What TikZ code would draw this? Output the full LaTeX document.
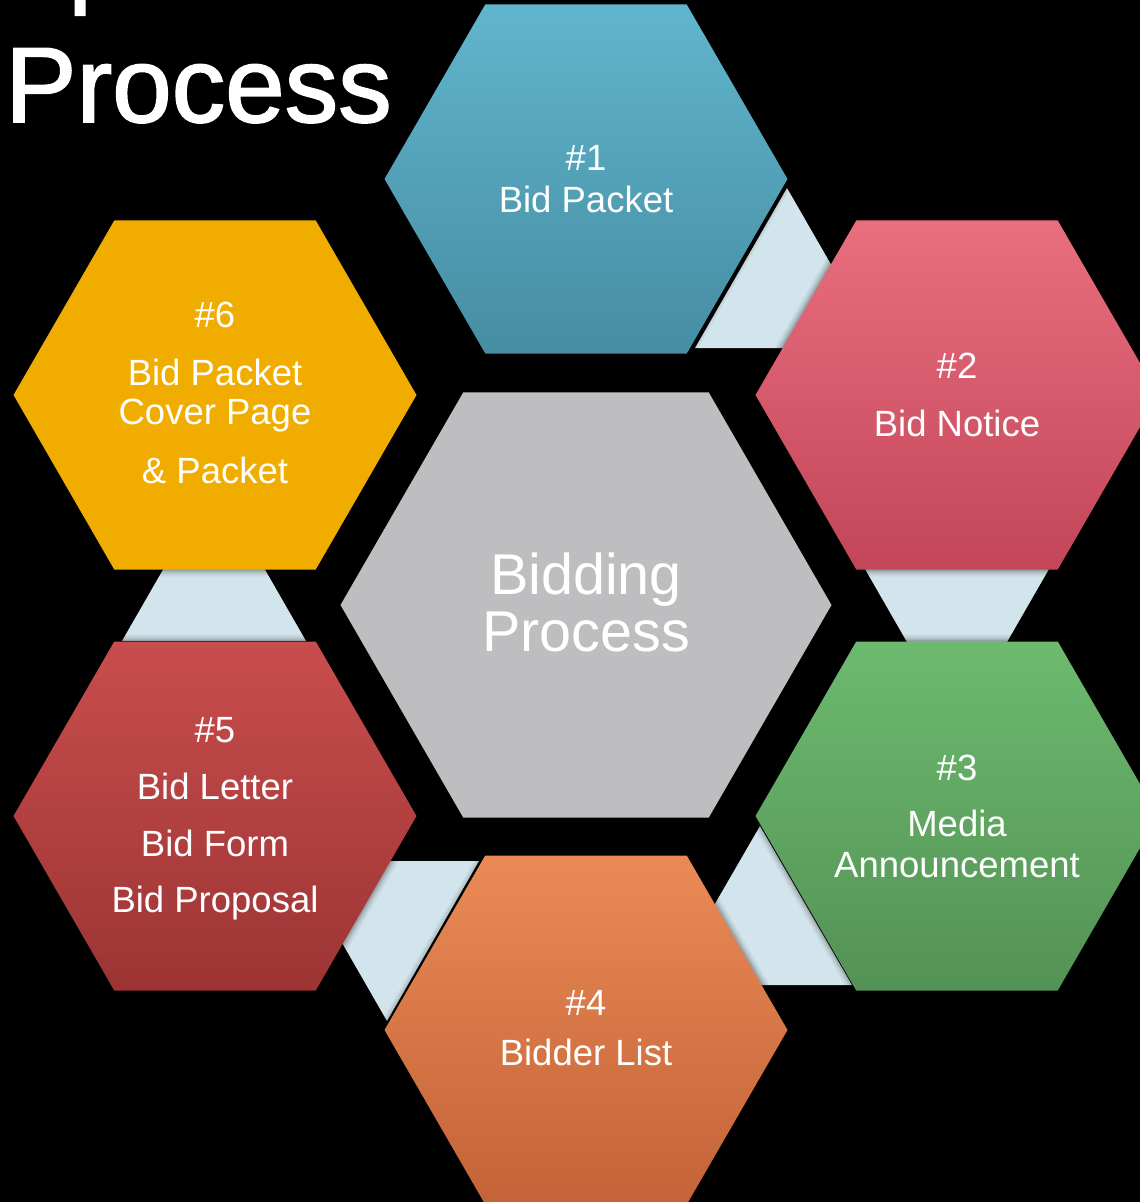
\documentclass[tikz,border=0pt]{standalone}
\usepackage{fontspec}
\setmainfont{Liberation Sans}
\newfontfamily\titlefont[FakeBold=1.6]{Liberation Sans}
\usetikzlibrary{shapes.geometric}
\definecolor{blueT}{RGB}{96,181,204}
\definecolor{blueB}{RGB}{70,141,163}
\definecolor{pinkT}{RGB}{233,110,126}
\definecolor{pinkB}{RGB}{194,70,88}
\definecolor{greenT}{RGB}{109,186,111}
\definecolor{greenB}{RGB}{83,146,85}
\definecolor{orangeT}{RGB}{233,138,86}
\definecolor{orangeB}{RGB}{196,99,55}
\definecolor{redT}{RGB}{201,77,77}
\definecolor{redB}{RGB}{156,52,52}
\definecolor{yellowc}{RGB}{240,173,0}
\definecolor{grayc}{RGB}{190,190,192}
\definecolor{lightblu}{RGB}{211,229,236}
\begin{document}
\begin{tikzpicture}[x=1pt,y=-1pt,
  hexa/.style={regular polygon, regular polygon sides=6, minimum size=403pt, inner sep=0pt, outer sep=0pt,
    preaction={draw=black, line width=14pt, draw opacity=0.05},
    preaction={draw=black, line width=10pt, draw opacity=0.07},
    preaction={draw=black, line width=6pt, draw opacity=0.09},
    preaction={draw=black, line width=3pt, draw opacity=0.11}},
  lbl/.style={text=white, font=\fontsize{36.5}{40}\selectfont, anchor=base, inner sep=0pt},
  big/.style={text=white, font=\fontsize{57.5}{60}\selectfont, anchor=base, inner sep=0pt},
  ttl/.style={text=white, font=\titlefont\fontsize{107}{120}\selectfont, anchor=base west, inner sep=0pt},
  conn/.style={fill=lightblu}]
\useasboundingbox (0,0) rectangle (1140,1202);
\clip (0,0) rectangle (1140,1202);
\fill[black] (0,0) rectangle (1140,1202);

% title
\node[ttl] (titlep) at (68,-7) {p};
\node[ttl] (title) at (5,122) {Process};

% connectors (light triangles behind the hexagons)
\fill[conn] (787,188) -- (879,348) -- (695,348) -- cycle;
\fill[conn] (865,569) -- (1049,569) -- (957,729) -- cycle;
\fill[conn] (760,826) -- (852,985) -- (668,985) -- cycle;
\fill[conn] (295,861) -- (479,861) -- (387,1021) -- cycle;
\fill[conn] (214,481) -- (306,641) -- (122,641) -- cycle;

% hexagons
\node[hexa, top color=blueT, bottom color=blueB] (h1) at (586,179) {};
\node[hexa, top color=pinkT, bottom color=pinkB] (h2) at (957,395) {};
\node[hexa, top color=greenT, bottom color=greenB] (h3) at (957,816) {};
\node[hexa, top color=orangeT, bottom color=orangeB] (h4) at (586,1030) {};
\node[hexa, top color=redT, bottom color=redB] (h5) at (215,816) {};
\node[hexa, fill=yellowc] (h6) at (215,395) {};
\node[hexa, minimum size=491pt, fill=grayc] (hc) at (586,605) {};

% labels
\node[lbl] (l1a) at (586,170) {\#1};
\node[lbl] (l1b) at (586,212) {Bid Packet};

\node[lbl] (l2a) at (957,378) {\#2};
\node[lbl] (l2b) at (957,436) {Bid Notice};

\node[lbl] (l3a) at (957,780) {\#3};
\node[lbl] (l3b) at (957,836) {Media};
\node[lbl] (l3c) at (957,877) {Announcement};

\node[lbl] (l4a) at (586,1015) {\#4};
\node[lbl] (l4b) at (586,1065) {Bidder List};

\node[lbl] (l5a) at (215,742) {\#5};
\node[lbl] (l5b) at (215,799) {Bid Letter};
\node[lbl] (l5c) at (215,856) {Bid Form};
\node[lbl] (l5d) at (215,912) {Bid Proposal};

\node[lbl] (l6a) at (215,327) {\#6};
\node[lbl] (l6b) at (215,385) {Bid Packet};
\node[lbl] (l6c) at (215,424) {Cover Page};
\node[lbl] (l6d) at (215,483) {\& Packet};

\node[big] (lca) at (586,594) {Bidding};
\node[big] (lcb) at (586,651) {Process};
\end{tikzpicture}
\end{document}
